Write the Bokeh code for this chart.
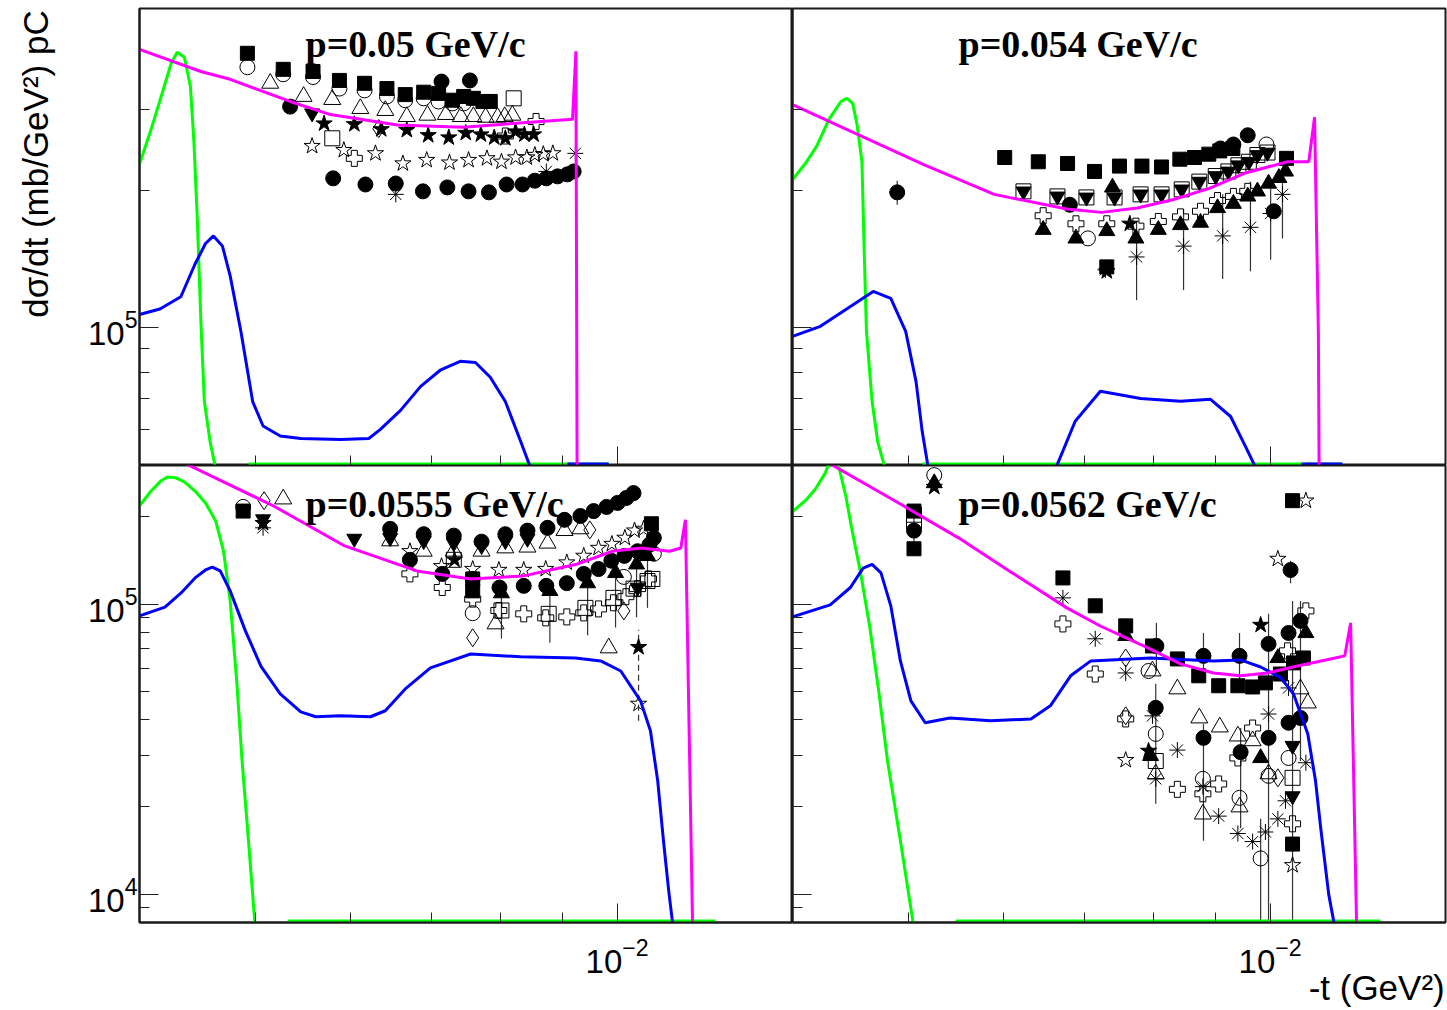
import math
from bokeh.plotting import figure
from bokeh.models import FixedTicker, Label, Range1d, CustomJSTickFormatter, LogTickFormatter
from bokeh.layouts import gridplot
from bokeh.embed import file_html
from bokeh.resources import INLINE

# ---------------- axes ----------------
X_RANGE = (0.004, 0.014)
Y_TOP = (5e4, 5e5)
Y_BOT = (8e3, 3e5)
X_MAJOR = [0.01]
X_MINOR = [0.005, 0.006, 0.007, 0.008, 0.009]
YT_MAJOR = [1e5]
YT_MINOR = [6e4, 7e4, 8e4, 9e4, 2e5, 3e5]
YB_MAJOR = [1e4, 1e5]
YB_MINOR = [9e3, 2e4, 3e4, 4e4, 5e4, 6e4, 7e4, 8e4, 9e4, 2e5]
TITLES = ["p=0.05 GeV/c", "p=0.054 GeV/c", "p=0.0555 GeV/c", "p=0.0562 GeV/c"]
X_TITLE = "-t (GeV\u00b2)"
Y_TITLE = "d\u03c3/dt (mb/GeV\u00b2) pC"

# ---------------- data: -t in 1e-3 GeV^2, dsigma/dt in 1e3 mb/GeV^2 ----------------
# p = 0.05 GeV/c (top left)
TL_MAG_T = [4.00, 4.50, 4.76, 5.34, 5.77, 6.56, 7.45, 8.47, 9.18, 9.24, 9.27]
TL_MAG_Y = [407, 364, 350, 313, 293, 278, 275, 282, 286, 403, 20]
TL_GRN_T = [4.00, 4.09, 4.17, 4.25, 4.30, 4.36, 4.41, 4.44, 4.47, 4.50, 4.53, 4.58, 4.62, 4.64]
TL_GRN_Y = [228, 272, 321, 379, 401, 391, 338, 256, 171, 103, 69, 56.4, 50.5, 30]
TL_GRN0_T = [4.93, 9.84]
TL_GRN0_Y = [50.4, 50.4]
TL_BLU_T = [4.00, 4.16, 4.33, 4.45, 4.54, 4.61, 4.69, 4.76, 4.86, 4.97, 5.07, 5.24, 5.45, 5.88,
            6.21, 6.35, 6.60, 6.86, 7.13, 7.40, 7.62, 7.84, 8.07, 8.31, 8.47, 8.50]
TL_BLU_Y = [107, 110, 117, 138, 153, 159, 151, 130, 98, 69, 61, 58, 57.3, 57,
            57.3, 60, 66, 74.5, 81, 84.5, 84, 78, 69, 56.5, 49.4, 40]
TL_BLU0_T = [9.09, 9.84]
TL_BLU0_Y = [50.4, 50.4]
TL_SQF_T = [4.92, 5.27, 5.58, 5.87, 6.16, 6.43, 6.66, 6.90, 7.10, 7.29, 7.45, 7.59, 7.73, 7.84]
TL_SQF_Y = [399, 368, 364, 348, 343, 334, 324, 328, 326, 315, 321, 318, 313, 313]
TL_CIO_T = [4.92, 5.27, 5.58, 5.87, 6.16, 6.43, 6.66, 6.90, 7.10, 7.29, 7.45]
TL_CIO_Y = [372, 359, 354, 334, 331, 321, 315, 318, 313, 310, 310]
TL_TRO_T = [5.14, 5.48, 5.79, 6.11, 6.41, 6.68, 6.95, 7.20, 7.41, 7.59, 7.77, 7.95, 8.06, 8.18]
TL_TRO_Y = [343, 321, 316, 302, 299, 290, 292, 293, 290, 290, 289, 289, 290, 292]
TL_CIF_T = [5.34, 7.14, 7.54, 5.80, 6.17, 6.54, 6.89, 7.22, 7.52, 7.82, 8.09, 8.34, 8.54, 8.73, 8.92, 9.09, 9.20]
TL_CIF_Y = [305, 346, 348, 212.5, 206, 207, 199, 203, 199, 198, 206, 206, 210, 212.5, 214.6, 216.8, 220]
TL_TDF_T = [5.57]
TL_TDF_Y = [295]
TL_STF_T = [5.70, 6.04, 6.36, 6.68, 6.96, 7.24, 7.48, 7.70, 7.90, 8.07, 8.23, 8.37, 8.52]
TL_STF_Y = [280, 279, 272, 271, 264, 261, 267, 265, 261, 260, 269, 265, 265]
TL_STO_T = [5.57, 5.92, 6.29, 6.63, 6.94, 7.25, 7.52, 7.79, 8.01, 8.23, 8.41, 8.54, 8.68, 8.84]
TL_STO_Y = [250, 245, 241, 229, 233, 230, 233, 235, 231, 236, 236, 239, 240, 241]
TL_SQO_T = [5.79, 8.20]
TL_SQO_Y = [260, 318]
TL_CRO_T = [6.04, 8.07, 8.56]
TL_CRO_Y = [235, 263, 283]
TL_DIO_T = [6.33]
TL_DIO_Y = [273]
TL_AST_T = [6.54, 8.73, 9.23]
TL_AST_Y = [196, 220, 241]

# p = 0.054 GeV/c (top right)
TR_MAG_T = [4.00, 4.48, 5.14, 5.89, 6.77, 7.24, 7.75, 8.31, 8.90, 9.52, 10.34, 10.77, 10.89, 10.97, 10.99]
TR_MAG_Y = [308, 269, 228, 196, 182, 179, 183, 191, 202, 218, 231, 231, 289, 98, 40]
TR_GRN_T = [4.00, 4.10, 4.19, 4.29, 4.39, 4.44, 4.49, 4.53, 4.57, 4.59, 4.61, 4.66, 4.71, 4.77, 4.79]
TR_GRN_Y = [211, 229, 250, 286, 313, 318, 310, 276, 231, 147, 98, 69, 56.4, 50, 40]
TR_GRN0_T = [5.13, 11.49]
TR_GRN0_Y = [50.4, 50.4]
TR_BLU_T = [4.00, 4.22, 4.47, 4.67, 4.83, 4.97, 5.07, 5.13, 5.19, 5.21]
TR_BLU_Y = [95.8, 100.8, 111.4, 120.2, 116, 98.3, 76.3, 59.4, 49.4, 40]
TR_BLU2_T = [6.56, 6.63, 6.88, 7.22, 7.80, 8.42, 8.92, 9.27, 9.54, 9.73, 9.78]
TR_BLU2_Y = [40, 49.4, 62.5, 72.7, 70.1, 69.1, 69.8, 64.0, 55.0, 49.4, 40]
TR_BLU0_T = [10.62, 11.49]
TR_BLU0_Y = [50.4, 50.4]
TR_SQF_T = [6.01, 6.41, 6.78, 7.14, 7.49, 7.82, 8.12, 8.41, 8.65, 8.89, 9.08, 9.31, 10.32, 7.31]
TR_SQF_Y = [236, 231, 229, 220, 226, 226, 225, 234, 236, 240, 244, 247, 235, 136]
TR_CIF_T = [4.89, 6.81, 9.09, 9.32, 9.58, 10.07]
TR_CIF_Y = [198, 186, 247, 252, 264, 180]
TR_CIO_T = [7.05, 9.93]
TR_CIO_Y = [157, 252]
TR_SQO_T = [6.23, 6.65, 7.03, 7.42, 7.80, 8.12, 8.44, 8.73, 9.01, 9.23, 9.41, 9.60, 9.76, 9.95]
TR_SQO_Y = [199, 194, 193, 193, 196, 196, 201, 209, 215, 220, 227, 231, 239, 242]
TR_TDF_T = [6.23, 6.65, 7.03, 7.42, 7.80, 8.12, 8.44, 8.73, 9.01, 9.23, 9.41, 9.60, 9.76, 9.95]
TR_TDF_Y = [199, 194, 193, 193, 196, 196, 201, 209, 215, 220, 227, 231, 239, 242]
TR_TRF_T = [7.39, 6.47, 6.89, 7.31, 7.73, 8.07, 8.42, 8.75, 9.04, 9.32, 9.58, 9.76, 9.97, 10.17, 10.30]
TR_TRF_Y = [203, 164, 157, 163, 157, 164, 168, 170, 183, 187, 194, 199, 207, 213, 220]
TR_CRO_T = [6.47, 6.89, 7.31, 7.73, 8.07, 8.42, 8.75, 9.04, 9.32, 9.58]
TR_CRO_Y = [176, 169, 169, 167, 171, 175, 180, 190, 194, 199]
TR_AST_T = [7.29, 7.74, 8.47, 9.13, 9.63, 10.01, 10.24]
TR_AST_Y = [134, 143, 151, 159, 166, 178, 196]
TR_STF_T = [7.64, 7.31]
TR_STF_Y = [169, 133]
TR_ERR_T = [4.89, 7.74, 8.47, 9.13, 9.63, 10.01, 10.24]
TR_ERR_LO = [186, 115, 121, 128, 133, 141, 157]
TR_ERR_HI = [210, 171, 182, 196, 209, 202, 223]

# p = 0.0555 GeV/c (bottom left)
BL_MAG_T = [4.00, 4.41, 5.17, 5.93, 6.81, 7.55, 8.36, 9.25, 9.91, 10.48, 11.06, 11.30, 11.40, 11.58]
BL_MAG_Y = [364, 299, 218, 158.5, 130, 122, 125, 137, 152, 156, 152, 156, 195, 5]
BL_GRN_T = [4.00, 4.09, 4.17, 4.22, 4.29, 4.36, 4.45, 4.54, 4.63, 4.70, 4.76, 4.82, 4.87, 4.93, 4.99, 5.01]
BL_GRN_Y = [218, 245, 266, 274, 272, 263.5, 245, 223, 193, 152, 102.5, 54.4, 28.8, 15.3, 8.04, 5]
BL_GRN0_T = [5.32, 12.08]
BL_GRN0_Y = [8.1, 8.1]
BL_BLU_T = [4.00, 4.20, 4.33, 4.45, 4.54, 4.60, 4.67, 4.76, 4.90, 5.05, 5.24, 5.45, 5.61, 5.88, 6.23,
            6.41, 6.66, 6.99, 7.55, 8.31, 9.23, 9.69, 10.07, 10.46, 10.66, 10.81, 10.93, 11.04, 11.12, 11.17]
BL_BLU_Y = [91, 97.6, 109, 123, 131, 134, 130, 111, 81, 61, 49, 42.5, 40.9, 41.2, 40.9,
            42.9, 51, 60.3, 67.3, 65.8, 65.2, 63.7, 58.8, 46.4, 36.6, 24.6, 15.3, 10.3, 8.04, 5]
BL_SQF_T = [4.88, 7.58, 7.58, 10.68]
BL_SQF_Y = [209, 122, 111, 189]
BL_CIO_T = [4.88, 7.58, 10.13, 10.73]
BL_CIO_Y = [216, 93, 124, 149]
BL_STF_T = [5.07, 7.32, 10.42]
BL_STF_Y = [190, 142, 71]
BL_AST_T = [5.07]
BL_AST_Y = [183]
BL_TDF_T = [5.07, 6.04, 6.47, 6.90, 7.31, 7.71, 8.07, 8.42, 10.40]
BL_TDF_Y = [196, 168, 169, 165, 162, 158.5, 165, 168, 114]
BL_DIO_T = [5.08, 7.58, 10.13, 9.49]
BL_DIO_Y = [227, 76.5, 94.7, 180]
BL_TRO_T = [5.27, 6.47, 6.90, 7.31, 7.71, 8.07, 8.42, 8.75, 9.04, 9.32, 7.92, 9.84]
BL_TRO_Y = [230, 165, 152, 152, 152, 156, 157, 162, 179, 181.5, 85.4, 70.6]
BL_CIF_T = [6.47, 6.90, 7.31, 7.71, 8.07, 8.42, 8.75, 9.04, 9.32, 9.56, 9.80, 10.01, 10.18, 10.32,
            6.72, 7.15, 7.58, 7.98, 8.36, 8.73, 9.08, 9.38, 9.65, 9.89, 10.14, 10.40, 10.64, 10.73]
BL_CIF_Y = [181.5, 174, 172, 164, 174, 179, 183, 195, 201, 209, 216, 223, 232, 241,
            142, 127, 122, 114, 115.5, 115.5, 118, 127, 132, 141, 146.5, 152, 160, 169]
BL_STO_T = [6.72, 7.14, 7.58, 7.97, 8.36, 8.72, 9.08, 9.38, 9.65, 9.90, 10.15, 10.34, 10.52, 10.42]
BL_STO_Y = [152, 135, 132, 131, 131, 132, 139, 146.5, 156, 161, 169, 179, 181.5, 45.3]
BL_TRF_T = [8.01, 8.79, 9.45, 9.97, 10.38, 10.60]
BL_TRF_Y = [109, 111, 118, 128, 137, 146.5]
BL_ERR_T = [8.01, 8.79, 9.45, 9.97, 10.38, 10.60]
BL_ERR_LO = [76, 73.5, 78, 83, 90, 97]
BL_ERR_HI = [114, 120, 123, 133, 141, 152]
BL_CRO_T = [6.72, 7.15, 7.58, 7.97, 8.36, 8.72, 9.08, 9.38, 9.65, 9.93, 10.17, 10.40, 10.62]
BL_CRO_Y = [127, 114, 104, 95, 92.5, 89.6, 90.3, 93.2, 96.2, 101, 106, 113, 122]
BL_SQO_T = [7.31, 8.01, 8.77, 9.41, 9.93, 10.32, 10.60, 10.70]
BL_SQO_Y = [142, 95, 92.5, 97, 105, 113, 120, 122]
BL_DASH_T = [10.42]
BL_DASH_LO = [39.6]
BL_DASH_HI = [81.5]

# p = 0.0562 GeV/c (bottom right)
BR_MAG_T = [4.00, 4.33, 4.92, 5.50, 6.08, 6.77, 7.22, 7.91, 8.42, 8.97, 9.45, 9.95, 10.54, 11.23, 11.54, 11.67, 11.83]
BR_MAG_Y = [362, 299, 221, 169, 129, 97, 84, 70.6, 62.2, 57.9, 56.6, 57.9, 61.2, 64.7, 66.3, 86.1, 5]
BR_GRN_T = [4.00, 4.10, 4.18, 4.26, 4.32, 4.37, 4.43, 4.48, 4.56, 4.64, 4.72, 4.80, 4.92, 5.04, 5.06]
BR_GRN_Y = [208, 227, 249, 283, 331, 299, 236, 183, 127, 83, 50, 28.8, 15.3, 8.04, 5]
BR_GRN0_T = [5.47, 12.36]
BR_GRN0_Y = [8.1, 8.1]
BR_BLU_T = [4.00, 4.30, 4.47, 4.58, 4.66, 4.74, 4.83, 4.92, 5.02, 5.16, 5.41, 5.85, 6.32, 6.56,
            6.82, 7.09, 7.95, 8.97, 9.45, 9.82, 10.21, 10.46, 10.75, 10.91, 11.02, 11.19, 11.30, 11.36]
BR_BLU_Y = [90.3, 99.3, 114, 133, 137, 128, 98.6, 63.7, 46.4, 39, 40.5, 39.6, 40.2, 44.6,
            56.6, 63.7, 65.2, 63.7, 64.2, 60.7, 55.7, 49, 35.7, 24.6, 16.9, 10, 8.04, 5]
BR_SQF_T = [5.05, 5.05, 6.72, 7.15, 7.58, 7.98, 8.37, 8.72, 9.06, 9.40, 9.67, 9.91, 10.20, 10.46, 10.66, 10.44, 10.44]
BR_SQF_Y = [209, 155, 123, 98.6, 84.1, 71.7, 64.7, 56.6, 52.3, 52.3, 51.8, 53.5, 57.4, 62.7, 65.2, 14.9, 227]
BR_CIF_T = [5.05, 8.04, 8.80, 9.43, 9.97, 10.36, 10.60, 8.03, 8.80, 9.45, 9.97, 10.36, 10.60, 10.40]
BR_CIF_Y = [179, 71.7, 66.3, 66.3, 72.9, 79.5, 87.5, 43.9, 34.6, 30.9, 34.6, 39.0, 40.5, 131]
BR_CIO_T = [5.25, 7.92, 8.03, 8.79, 9.43, 9.97, 10.36, 9.82]
BR_CIO_Y = [278, 58.8, 35.7, 25.0, 21.5, 25.6, 29.5, 13.3]
BR_SQO_T = [5.05, 5.05, 8.03, 10.44]
BR_SQO_Y = [203, 193, 28.8, 25.2]
BR_TRF_T = [5.25, 7.58, 7.95, 9.82, 10.15, 10.71]
BR_TRF_Y = [261, 77.7, 30.0, 29.5, 65.2, 79.5]
BR_TRO_T = [7.98, 8.37, 8.03, 8.73, 9.08, 9.40, 9.67, 8.79, 9.43, 9.97, 10.60, 10.75]
BR_TRO_Y = [58.8, 51.0, 26.0, 40.5, 37.7, 35.1, 33.8, 18.9, 20.0, 26.0, 51.0, 45.6]
BR_TDF_T = [10.44, 10.44]
BR_TDF_Y = [32.5, 21.8]
BR_STF_T = [5.25, 7.92, 9.82]
BR_STF_Y = [253, 31.2, 84.7]
BR_STO_T = [7.58, 10.15, 10.71, 10.44]
BR_STO_Y = [29.0, 143, 227, 12.6]
BR_CRO_T = [6.72, 7.15, 7.58, 8.37, 8.79, 9.06, 9.40, 9.67, 10.34, 10.71, 10.44]
BR_CRO_Y = [85.4, 57.4, 40.2, 23.0, 22.2, 24.0, 29.5, 37.4, 69.0, 94.7, 17.5]
BR_DIO_T = [7.58, 7.58, 10.15]
BR_DIO_Y = [65.2, 41.2, 25.2]
BR_AST_T = [6.72, 7.15, 7.58, 7.98, 8.03, 8.37, 8.79, 9.06, 9.40, 9.67, 9.91, 10.15, 10.30, 9.97, 10.36, 10.71]
BR_AST_Y = [105, 75.9, 57.9, 41.2, 25.0, 31.4, 23.5, 18.6, 16.2, 15.2, 16.4, 18.2, 21.0, 41.8, 51.4, 28.4]
BR_ERR_T = [5.05, 8.04, 8.80, 9.43, 8.03, 8.80, 9.45, 9.97, 10.44, 10.60, 10.40, 9.82]
BR_ERR_LO = [146.5, 58.8, 54.4, 54.4, 20.5, 15.3, 16.9, 5, 5, 28.8, 118, 5]
BR_ERR_HI = [218, 86.1, 79.5, 79.5, 53.1, 38.6, 37.4, 92.5, 102.5, 102.5, 141, 18.2]

# ---------------- styles ----------------
MAGENTA, GREEN, BLUE = "#ff00ff", "#00ff00", "#0000ff"
STYLE = {
    "sqf": dict(marker="square", size=14, fill_color="black", line_color="black"),
    "sqo": dict(marker="square", size=15, fill_color=None, line_color="black"),
    "cif": dict(marker="circle", size=15, fill_color="black", line_color="black"),
    "cio": dict(marker="circle", size=15, fill_color=None, line_color="black"),
    "trf": dict(marker="triangle", size=16, fill_color="black", line_color="black"),
    "tro": dict(marker="triangle", size=17, fill_color=None, line_color="black"),
    "tdf": dict(marker="inverted_triangle", size=15, fill_color="black", line_color="black"),
    "stf": dict(marker="star", size=17, fill_color="black", line_color="black"),
    "sto": dict(marker="star", size=17, fill_color=None, line_color="black"),
    "cro": dict(marker="plus", size=16, fill_color=None, line_color="black"),
    "dio": dict(marker="diamond", size=18, fill_color=None, line_color="black"),
    "ast": dict(marker="asterisk", size=16, fill_color=None, line_color="black"),
}
FONT = "Liberation Sans"
NBSP = "\u00a0"


def sx(t):
    return [a * 1e-3 for a in t]


def sy(y):
    return [b * 1e3 for b in y]


def make_panel(w, h, yr, ymaj, ymin, bl, br, bt, bb, xlabels, ylabels):
    p = figure(width=w, height=h, x_axis_type="log", y_axis_type="log",
               x_range=Range1d(*X_RANGE), y_range=Range1d(*yr),
               output_backend="svg", toolbar_location=None, tools="",
               min_border_left=bl, min_border_right=br, min_border_top=bt, min_border_bottom=bb)
    p.xgrid.visible = False
    p.ygrid.visible = False
    p.outline_line_color = "#1a1a1a"
    p.outline_line_width = 2
    p.outline_line_alpha = 1
    p.background_fill_color = "white"
    p.border_fill_color = "white"
    p.xaxis.ticker = FixedTicker(ticks=X_MAJOR, minor_ticks=X_MINOR)
    p.yaxis.ticker = FixedTicker(ticks=ymaj, minor_ticks=ymin)
    for ax, show in ((p.xaxis[0], xlabels), (p.yaxis[0], ylabels)):
        if show:
            ax.formatter = LogTickFormatter()
            ax.major_label_text_font_size = "33px"
            ax.major_label_text_font = FONT
            ax.major_label_text_color = "black"
        else:
            ax.formatter = CustomJSTickFormatter(code="return '';")
            ax.major_label_text_font_size = "1px"
            ax.major_label_standoff = 0
        ax.major_tick_in = 19
        ax.major_tick_out = 0
        ax.minor_tick_in = 10
        ax.minor_tick_out = 0
        ax.axis_line_color = "#1a1a1a"
        ax.axis_line_width = 2
        ax.major_tick_line_color = "#222222"
        ax.minor_tick_line_color = "#222222"
        ax.major_tick_line_width = 1
        ax.minor_tick_line_width = 1
    if xlabels:
        p.xaxis.major_label_standoff = 15
    if ylabels:
        p.yaxis.major_label_standoff = 2
    return p


def pts(p, t, y, kind):
    p.scatter(sx(t), sy(y), line_width=1, **STYLE[kind])


def curve(p, t, y, color):
    p.line(sx(t), sy(y), line_color=color, line_width=3)


def errs(p, t, lo, hi, dash="solid"):
    x = sx(t)
    p.segment(x, sy(lo), x, sy(hi), line_color="#333333", line_width=1.2, line_dash=dash)


tl = make_panel(792, 465, Y_TOP, YT_MAJOR, YT_MINOR, 139, 0, 8, 0, False, True)
tr = make_panel(655, 465, Y_TOP, YT_MAJOR, YT_MINOR, 0, 2, 8, 0, False, False)
bl = make_panel(792, 545, Y_BOT, YB_MAJOR, YB_MINOR, 139, 0, 0, 88, True, True)
br = make_panel(655, 545, Y_BOT, YB_MAJOR, YB_MINOR, 0, 2, 0, 88, True, False)

# axis titles (ROOT puts them at the far end of the axis; padded to shift them there)
tl.yaxis.axis_label = NBSP * 15 + Y_TITLE
tl.yaxis.axis_label_standoff = 30
tl.yaxis.axis_label_text_font = FONT
tl.yaxis.axis_label_text_font_size = "35px"
tl.yaxis.axis_label_text_font_style = "normal"
tl.yaxis.axis_label_text_color = "black"
br.xaxis.axis_label = NBSP * 53 + X_TITLE
br.xaxis.axis_label_standoff = -8
br.xaxis.axis_label_text_font = FONT
br.xaxis.axis_label_text_font_size = "35px"
br.xaxis.axis_label_text_font_style = "normal"
br.xaxis.axis_label_text_color = "black"

# ---- top left ----
for t, y, k in [(TL_CIO_T, TL_CIO_Y, "cio"), (TL_TRO_T, TL_TRO_Y, "tro"), (TL_SQF_T, TL_SQF_Y, "sqf"),
                (TL_CIF_T, TL_CIF_Y, "cif"), (TL_TDF_T, TL_TDF_Y, "tdf"), (TL_STF_T, TL_STF_Y, "stf"),
                (TL_STO_T, TL_STO_Y, "sto"), (TL_SQO_T, TL_SQO_Y, "sqo"), (TL_CRO_T, TL_CRO_Y, "cro"),
                (TL_DIO_T, TL_DIO_Y, "dio"), (TL_AST_T, TL_AST_Y, "ast")]:
    pts(tl, t, y, k)
curve(tl, TL_GRN_T, TL_GRN_Y, GREEN)
curve(tl, TL_GRN0_T, TL_GRN0_Y, GREEN)
curve(tl, TL_BLU_T, TL_BLU_Y, BLUE)
curve(tl, TL_BLU0_T, TL_BLU0_Y, BLUE)
curve(tl, TL_MAG_T, TL_MAG_Y, MAGENTA)

# ---- top right ----
errs(tr, TR_ERR_T, TR_ERR_LO, TR_ERR_HI)
for t, y, k in [(TR_SQO_T, TR_SQO_Y, "sqo"), (TR_TDF_T, TR_TDF_Y, "tdf"), (TR_SQF_T, TR_SQF_Y, "sqf"),
                (TR_CIF_T, TR_CIF_Y, "cif"), (TR_CIO_T, TR_CIO_Y, "cio"), (TR_CRO_T, TR_CRO_Y, "cro"),
                (TR_TRF_T, TR_TRF_Y, "trf"), (TR_AST_T, TR_AST_Y, "ast"), (TR_STF_T, TR_STF_Y, "stf")]:
    pts(tr, t, y, k)
curve(tr, TR_GRN_T, TR_GRN_Y, GREEN)
curve(tr, TR_GRN0_T, TR_GRN0_Y, GREEN)
curve(tr, TR_BLU_T, TR_BLU_Y, BLUE)
curve(tr, TR_BLU2_T, TR_BLU2_Y, BLUE)
curve(tr, TR_BLU0_T, TR_BLU0_Y, BLUE)
curve(tr, TR_MAG_T, TR_MAG_Y, MAGENTA)

# ---- bottom left ----
errs(bl, BL_ERR_T, BL_ERR_LO, BL_ERR_HI)
errs(bl, BL_DASH_T, BL_DASH_LO, BL_DASH_HI, dash="6 4")
for t, y, k in [(BL_CIO_T, BL_CIO_Y, "cio"), (BL_SQF_T, BL_SQF_Y, "sqf"), (BL_TRO_T, BL_TRO_Y, "tro"),
                (BL_TDF_T, BL_TDF_Y, "tdf"), (BL_CIF_T, BL_CIF_Y, "cif"), (BL_STO_T, BL_STO_Y, "sto"),
                (BL_TRF_T, BL_TRF_Y, "trf"), (BL_CRO_T, BL_CRO_Y, "cro"), (BL_SQO_T, BL_SQO_Y, "sqo"),
                (BL_DIO_T, BL_DIO_Y, "dio"), (BL_STF_T, BL_STF_Y, "stf"), (BL_AST_T, BL_AST_Y, "ast")]:
    pts(bl, t, y, k)
curve(bl, BL_GRN_T, BL_GRN_Y, GREEN)
curve(bl, BL_GRN0_T, BL_GRN0_Y, GREEN)
curve(bl, BL_BLU_T, BL_BLU_Y, BLUE)
curve(bl, BL_MAG_T, BL_MAG_Y, MAGENTA)

# ---- bottom right ----
errs(br, BR_ERR_T, BR_ERR_LO, BR_ERR_HI)
for t, y, k in [(BR_SQF_T, BR_SQF_Y, "sqf"), (BR_CIF_T, BR_CIF_Y, "cif"), (BR_CIO_T, BR_CIO_Y, "cio"),
                (BR_SQO_T, BR_SQO_Y, "sqo"), (BR_TRF_T, BR_TRF_Y, "trf"), (BR_TRO_T, BR_TRO_Y, "tro"),
                (BR_TDF_T, BR_TDF_Y, "tdf"), (BR_STF_T, BR_STF_Y, "stf"), (BR_STO_T, BR_STO_Y, "sto"),
                (BR_CRO_T, BR_CRO_Y, "cro"), (BR_DIO_T, BR_DIO_Y, "dio"), (BR_AST_T, BR_AST_Y, "ast")]:
    pts(br, t, y, k)
curve(br, BR_GRN_T, BR_GRN_Y, GREEN)
curve(br, BR_GRN0_T, BR_GRN0_Y, GREEN)
curve(br, BR_BLU_T, BR_BLU_Y, BLUE)
curve(br, BR_MAG_T, BR_MAG_Y, MAGENTA)

# ---- panel titles (inside frames) ----
for p, ttl, dy, top in [(tl, TITLES[0], -35.5, Y_TOP[1]), (tr, TITLES[1], -35.5, Y_TOP[1]),
                        (bl, TITLES[2], -38.5, Y_BOT[1]), (br, TITLES[3], -38.5, Y_BOT[1])]:
    p.add_layout(Label(x=X_RANGE[0], y=top, x_offset=166, y_offset=dy, text=ttl,
                       text_font="Liberation Serif", text_font_style="bold", text_font_size="38px",
                       text_baseline="alphabetic", text_align="left", text_color="black"))

grid = gridplot([[tl, tr], [bl, br]], toolbar_location=None)
open("out.html", "w").write(file_html(grid, INLINE))
